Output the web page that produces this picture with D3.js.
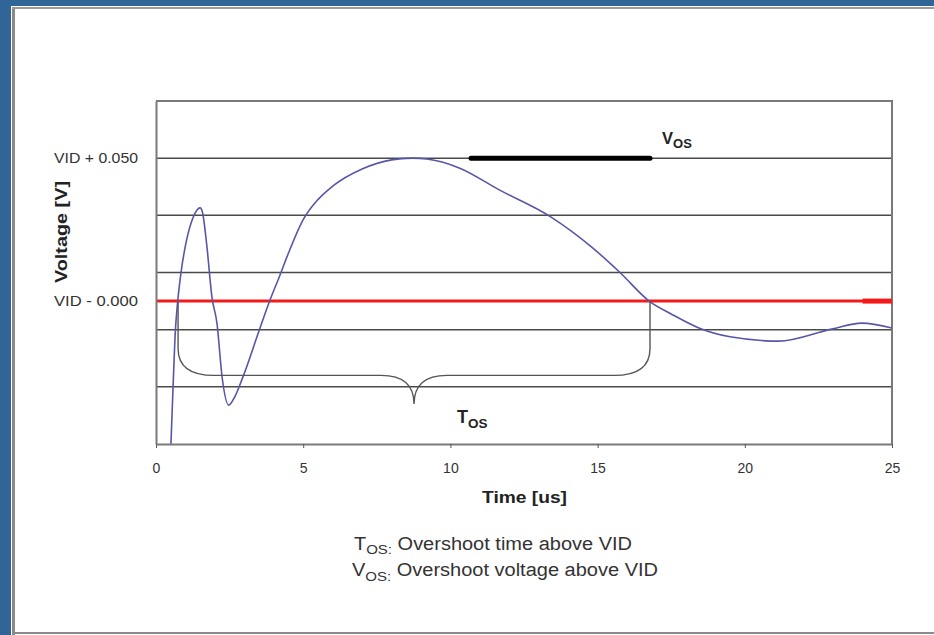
<!DOCTYPE html>
<html>
<head>
<meta charset="utf-8">
<script src="https://cdn.jsdelivr.net/npm/d3@7/dist/d3.min.js"></script>
<style>
  html, body { margin: 0; padding: 0; background: #ffffff; }
  svg { display: block; }
  text { font-family: "Liberation Sans", Arial, sans-serif; }
</style>
</head>
<body>
<svg id="chart" width="934" height="635"></svg>
<script>
// Output voltage transient after a load step (time in us, voltage relative to VID in V)
const timeUs = [0.50, 0.58, 0.66, 0.72, 0.85, 1.04, 1.25, 1.42, 1.50, 1.58, 1.72, 1.90, 2.07, 2.25, 2.47, 2.65, 2.95, 3.53, 3.86, 4.2, 4.5, 5.0, 5.5, 6.0, 7.0, 8.0, 8.7, 9.2, 10.3, 11.66, 13.42, 14.8, 15.76, 16.75, 17.5, 18.44, 19.5, 21.15, 22.95, 23.97, 25.0];
const voltage = [-0.052, -0.030, -0.010, -0.002, 0.010, 0.0214, 0.029, 0.0322, 0.0326, 0.031, 0.020, 0.0014, -0.0077, -0.027, -0.0364, -0.034, -0.0266, -0.0095, 0.0, 0.0088, 0.0168, 0.0285, 0.0355, 0.0402, 0.0462, 0.0494, 0.050, 0.0497, 0.0466, 0.0389, 0.0294, 0.0189, 0.010, 0.0, -0.0045, -0.0094, -0.0125, -0.014, -0.0098, -0.0077, -0.0094];

// Axis ticks and reference levels
const xTicks = [0, 5, 10, 15, 20, 25];
const gridLevels = [-0.03, -0.01, 0.01, 0.03, 0.05];
const yLabelValues = [0.05, 0.0];
const yLabelTexts = ["VID + 0.050", "VID - 0.000"];
const vidLevel = 0.0;
const overshootLevel = 0.05;

// Overshoot interval annotations
const vosSpan = [10.7, 16.78];   // overshoot voltage marker
const tosSpan = [0.75, 16.78];   // overshoot time above VID
const braceLevels = [-0.026, -0.036]; // brace bar and tip

const svg = d3.select("#chart");
const W = 934, H = 635;
const FONT = "'Liberation Sans', Arial, sans-serif";

// page frame
svg.append("rect").attr("x", 0).attr("y", 0).attr("width", W).attr("height", H).attr("fill", "#ffffff");
svg.append("rect").attr("x", 0).attr("y", 0).attr("width", W).attr("height", 6).attr("fill", "#306598");
svg.append("rect").attr("x", 0).attr("y", 0).attr("width", 11).attr("height", H).attr("fill", "#306598");
svg.append("line").attr("x1", 13.5).attr("x2", 13.5).attr("y1", 7).attr("y2", H).attr("stroke", "#8a8a8a").attr("stroke-width", 3);
svg.append("line").attr("x1", 12).attr("x2", W).attr("y1", 8).attr("y2", 8).attr("stroke", "#9a9a9a").attr("stroke-width", 2);
svg.append("line").attr("x1", 12).attr("x2", W).attr("y1", 633).attr("y2", 633).attr("stroke", "#8a8a8a").attr("stroke-width", 2);

const x = d3.scaleLinear().domain([0, 25]).range([156, 892]);
const y = d3.scaleLinear().domain([-0.05, 0.07]).range([444, 101]);

// grid lines
svg.append("g").selectAll("line").data(gridLevels).join("line")
  .attr("x1", x(0)).attr("x2", x(25))
  .attr("y1", d => y(d)).attr("y2", d => y(d))
  .attr("stroke", "#4a4a4a").attr("stroke-width", 1.5);

// plot border (top and right)
svg.append("path")
  .attr("d", `M${x(0)},${y(0.07)}H${x(25)}V${y(-0.05)}`)
  .attr("fill", "none").attr("stroke", "#7a7a7a").attr("stroke-width", 2);

// VID reference line
svg.append("line")
  .attr("x1", x(0)).attr("x2", x(25)).attr("y1", y(vidLevel)).attr("y2", y(vidLevel))
  .attr("stroke", "#f41a1a").attr("stroke-width", 3);
svg.append("line")
  .attr("x1", x(24)).attr("x2", x(25)).attr("y1", y(vidLevel)).attr("y2", y(vidLevel))
  .attr("stroke", "#f41a1a").attr("stroke-width", 5);

// waveform
svg.append("clipPath").attr("id", "plotclip").append("rect")
  .attr("x", x(0)).attr("y", y(0.07)).attr("width", x(25) - x(0)).attr("height", y(-0.05) - y(0.07));
const pts = timeUs.map((t, i) => [t, voltage[i]]);
svg.append("path")
  .datum(pts)
  .attr("clip-path", "url(#plotclip)")
  .attr("fill", "none").attr("stroke", "#5757a8").attr("stroke-width", 1.6)
  .attr("d", d3.line().x(d => x(d[0])).y(d => y(d[1])).curve(d3.curveMonotoneX));

// Vos marker
svg.append("line")
  .attr("x1", x(vosSpan[0])).attr("x2", x(vosSpan[1]))
  .attr("y1", y(overshootLevel)).attr("y2", y(overshootLevel))
  .attr("stroke", "#000").attr("stroke-width", 5).attr("stroke-linecap", "round");

// Tos brace
{
  const xa = x(tosSpan[0]), xb = x(tosSpan[1]), xm = (xa + xb) / 2;
  const y0 = y(vidLevel), yb = y(braceLevels[0]), yt = y(braceLevels[1]);
  const rx = 36, ry = 27, cx = 33;
  const p = d3.path();
  p.moveTo(xa, y0 + 1);
  p.lineTo(xa, yb - ry);
  p.quadraticCurveTo(xa, yb, xa + rx, yb);
  p.lineTo(xm - cx, yb);
  p.quadraticCurveTo(xm, yb, xm, yt);
  p.quadraticCurveTo(xm, yb, xm + cx, yb);
  p.lineTo(xb - rx, yb);
  p.quadraticCurveTo(xb, yb, xb, yb - ry);
  p.lineTo(xb, y0);
  svg.append("path").attr("d", p.toString())
    .attr("fill", "none").attr("stroke", "#555").attr("stroke-width", 1.4);
}

// x axis
const xAxis = svg.append("g").attr("transform", `translate(0,${y(-0.05)})`)
  .call(d3.axisBottom(x).tickValues(xTicks).tickSize(4).tickPadding(15).tickSizeOuter(0));
xAxis.select(".domain").attr("stroke", "#7a7a7a").attr("stroke-width", 2);
xAxis.selectAll(".tick line").attr("stroke", "#555");
xAxis.selectAll(".tick text").attr("font-size", 14).attr("fill", "#333").style("font-family", FONT);

// y axis
const yAxis = svg.append("g").attr("transform", `translate(${x(0)},0)`)
  .call(d3.axisLeft(y).tickValues(yLabelValues).tickSize(0).tickPadding(18)
    .tickFormat((d, i) => yLabelTexts[i]));
yAxis.select(".domain").attr("stroke", "#7a7a7a").attr("stroke-width", 2);
yAxis.selectAll(".tick text").attr("font-size", 14.5).attr("fill", "#333")
  .attr("dy", "0.28em").attr("textLength", 84).attr("lengthAdjust", "spacingAndGlyphs")
  .style("font-family", FONT);

// axis titles
svg.append("text").attr("x", 482).attr("y", 503)
  .attr("font-size", 16.5).attr("font-weight", "bold").attr("fill", "#222")
  .attr("textLength", 85).attr("lengthAdjust", "spacingAndGlyphs").text("Time [us]");
svg.append("text").attr("transform", "translate(66.5,232) rotate(-90)").attr("text-anchor", "middle")
  .attr("font-size", 16.5).attr("font-weight", "bold").attr("fill", "#222")
  .attr("textLength", 102).attr("lengthAdjust", "spacingAndGlyphs").text("Voltage [V]");

// annotation labels
function subLabel(px, py, main, sub, size, subSize, weight) {
  const t = svg.append("text").attr("x", px).attr("y", py)
    .attr("font-size", size).attr("font-weight", weight).attr("fill", "#222");
  t.append("tspan").text(main);
  t.append("tspan").attr("font-size", subSize).attr("dy", size * 0.25).text(sub);
  return t;
}
subLabel(662, 144, "V", "OS", 16.5, 13, "bold");
subLabel(457, 423, "T", "OS", 18, 13.5, "bold");

// legend notes
const n1 = subLabel(354, 549.5, "T", "OS:", 18, 13.5, "normal").attr("fill", "#333");
n1.append("tspan").attr("dy", -4.5).text(" Overshoot time above VID");
n1.attr("textLength", 278).attr("lengthAdjust", "spacingAndGlyphs");
const n2 = subLabel(352, 576, "V", "OS:", 18, 13.5, "normal").attr("fill", "#333");
n2.append("tspan").attr("dy", -4.5).text(" Overshoot voltage above VID");
n2.attr("textLength", 306).attr("lengthAdjust", "spacingAndGlyphs");
</script>
</body>
</html>
